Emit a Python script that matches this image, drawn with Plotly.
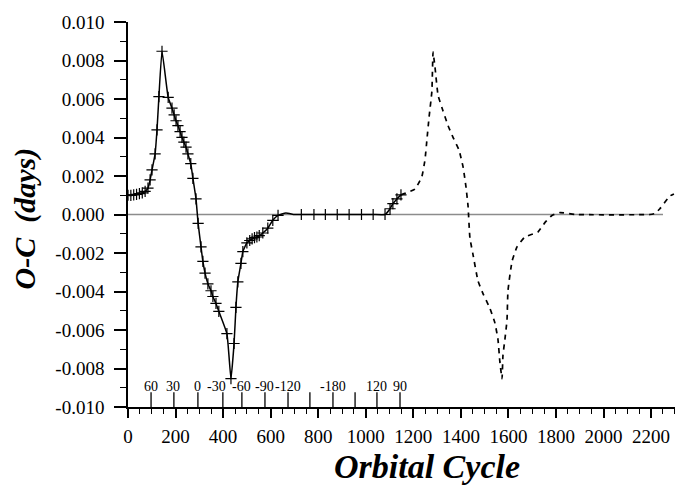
import plotly.graph_objects as go

# Observed O-C (solid line with + markers)
x_obs = [0, 12, 24, 36, 48, 60, 72, 84, 93, 101, 114, 122, 130, 143, 169, 185, 194, 202, 210,
         219, 227, 235, 244, 252, 264, 273, 286, 295, 307, 315, 324, 336, 349, 357, 370, 382,
         416, 433, 446, 454, 462, 475, 483, 500, 512, 522, 532, 542, 552, 567, 588, 609, 631,
         729, 782, 830, 880, 930, 982, 1031, 1081, 1102, 1114, 1131, 1148]
y_obs = [0.00100, 0.00099, 0.00102, 0.00105, 0.00108, 0.00112, 0.00120, 0.00137, 0.00180,
         0.00232, 0.00315, 0.00440, 0.00612, 0.00848, 0.00608, 0.00553, 0.00518, 0.00487,
         0.00462, 0.00431, 0.00401, 0.00376, 0.00350, 0.00315, 0.00264, 0.00188, 0.00081,
         -0.00046, -0.00168, -0.00244, -0.00305, -0.00360, -0.00396, -0.00426, -0.00462,
         -0.00503, -0.00619, -0.00853, -0.00670, -0.00482, -0.00350, -0.00254, -0.00193,
         -0.00147, -0.00135, -0.00127, -0.00120, -0.00117, -0.00110, -0.00096, -0.00071,
         -0.00030, -0.00005, 0.0, 0.0, 0.0, 0.0, 0.0, 0.0, 0.0, 0.0, 0.00030, 0.00056,
         0.00081, 0.00102]

# Curve points between markers (no marker drawn)
x_bump = [664, 700]
y_bump = [0.00008, 0.0]

# Predicted continuation (dashed)
x_pred = [1148, 1207, 1236, 1249, 1257, 1266, 1278, 1283, 1291, 1304, 1325, 1346, 1367, 1392,
          1409, 1421, 1430, 1438, 1451, 1472, 1493, 1522, 1543, 1556, 1564, 1573, 1577, 1585,
          1594, 1598, 1615, 1636, 1669, 1724, 1754, 1783, 1817, 1880, 2195, 2216, 2237, 2279,
          2296]
y_pred = [0.00102, 0.00132, 0.00198, 0.00284, 0.00386, 0.00503, 0.00640, 0.00843, 0.00766,
          0.00619, 0.00538, 0.00462, 0.00401, 0.00335, 0.00249, 0.00147, 0.00046, -0.00122,
          -0.00208, -0.00345, -0.00411, -0.00487, -0.00563, -0.00650, -0.00766, -0.00853,
          -0.00731, -0.00650, -0.00548, -0.00396, -0.00244, -0.00168, -0.00117, -0.00091,
          -0.00041, -0.00005, 0.00010, 0.0, 0.0, 0.00005, 0.00030, 0.00096, 0.00107]

# Secondary (angle) scale along the bottom axis
phase_x = [97, 193, 294, 399, 479, 576, 673, 765, 862, 955, 1047, 1144]
phase_label_x = [97, 188, 294, 374, 479, 576, 673, 765, 862, 955, 1047, 1144]
phase_labels = ["60", "30", "0", "-30", "-60", "-90", "-120", "", "-180", "", "120", "90"]

x_tickvals = [0, 200, 400, 600, 800, 1000, 1200, 1400, 1600, 1800, 2000, 2200]
y_tickvals = [0.010, 0.008, 0.006, 0.004, 0.002, 0.0, -0.002, -0.004, -0.006, -0.008, -0.010]
y_ticktext = ["0.010", "0.008", "0.006", "0.004", "0.002", "0.000",
              "-0.002", "-0.004", "-0.006", "-0.008", "-0.010"]

zero_line_end = 2250

FONT = "Liberation Serif"

line_pts = sorted(list(zip(x_obs, y_obs)) + list(zip(x_bump, y_bump)))
line_x = [p[0] for p in line_pts]
line_y = [p[1] for p in line_pts]

fig = go.Figure()

fig.add_shape(type="line", x0=0, x1=zero_line_end, y0=0, y1=0, xref="x", yref="y",
              line=dict(color="#8c8c8c", width=1.5), layer="below")

fig.add_trace(go.Scatter(x=x_pred, y=y_pred, mode="lines",
                         line=dict(color="black", width=1.7, dash="5px,5px", shape="spline", smoothing=0.4),
                         hoverinfo="skip", showlegend=False))
fig.add_trace(go.Scatter(x=line_x, y=line_y, mode="lines",
                         line=dict(color="black", width=1.5, shape="spline", smoothing=0.4),
                         hoverinfo="skip", showlegend=False))
fig.add_trace(go.Scatter(x=x_obs, y=y_obs, mode="markers",
                         marker=dict(symbol="cross-thin", size=8, line=dict(color="black", width=1.2)),
                         showlegend=False))

tick_h = 0.00076
for px in phase_x:
    fig.add_shape(type="line", x0=px, x1=px, y0=-0.010, y1=-0.010 + tick_h, xref="x", yref="y",
                  line=dict(color="black", width=1.3))
for lx, lab in zip(phase_label_x, phase_labels):
    if lab:
        fig.add_annotation(x=lx, y=-0.00895, xref="x", yref="y", text=lab, showarrow=False,
                           xanchor="center", yanchor="middle",
                           font=dict(family=FONT, size=14, color="black"))

fig.add_annotation(x=-0.188, y=0.49, xref="paper", yref="paper", text="<b><i>O-C  (days)</i></b>",
                   textangle=-90, showarrow=False, xanchor="center", yanchor="middle",
                   font=dict(family=FONT, size=30, color="black"))
fig.add_annotation(x=0.547, y=-0.154, xref="paper", yref="paper", text="<b><i>Orbital Cycle</i></b>",
                   showarrow=False, xanchor="center", yanchor="middle",
                   font=dict(family=FONT, size=34, color="black"))

fig.update_layout(
    width=691, height=486,
    margin=dict(l=128, r=16, t=13, b=79, pad=0),
    paper_bgcolor="white", plot_bgcolor="white",
    showlegend=False,
    xaxis=dict(range=[0, 2300.5], showline=True, linecolor="black", linewidth=1.5,
               ticks="outside", ticklen=9, tickwidth=1.5, tickcolor="black",
               tickmode="array", tickvals=x_tickvals,
               tickfont=dict(family=FONT, size=19, color="black"),
               showgrid=False, zeroline=False, ticklabelstandoff=2,
               minor=dict(dtick=50, tick0=0, ticklen=5, tickwidth=1.2, tickcolor="black",
                          ticks="outside", showgrid=False)),
    yaxis=dict(range=[-0.010, 0.010], showline=True, linecolor="black", linewidth=1.5,
               ticks="outside", ticklen=12, tickwidth=1.5, tickcolor="black",
               tickmode="array", tickvals=y_tickvals, ticktext=y_ticktext,
               tickfont=dict(family=FONT, size=19, color="black"),
               showgrid=False, zeroline=False, ticklabelstandoff=6,
               minor=dict(dtick=0.001, tick0=0, ticklen=6, tickwidth=1.2, tickcolor="black",
                          ticks="outside", showgrid=False)),
)

fig.write_html("out.html")
